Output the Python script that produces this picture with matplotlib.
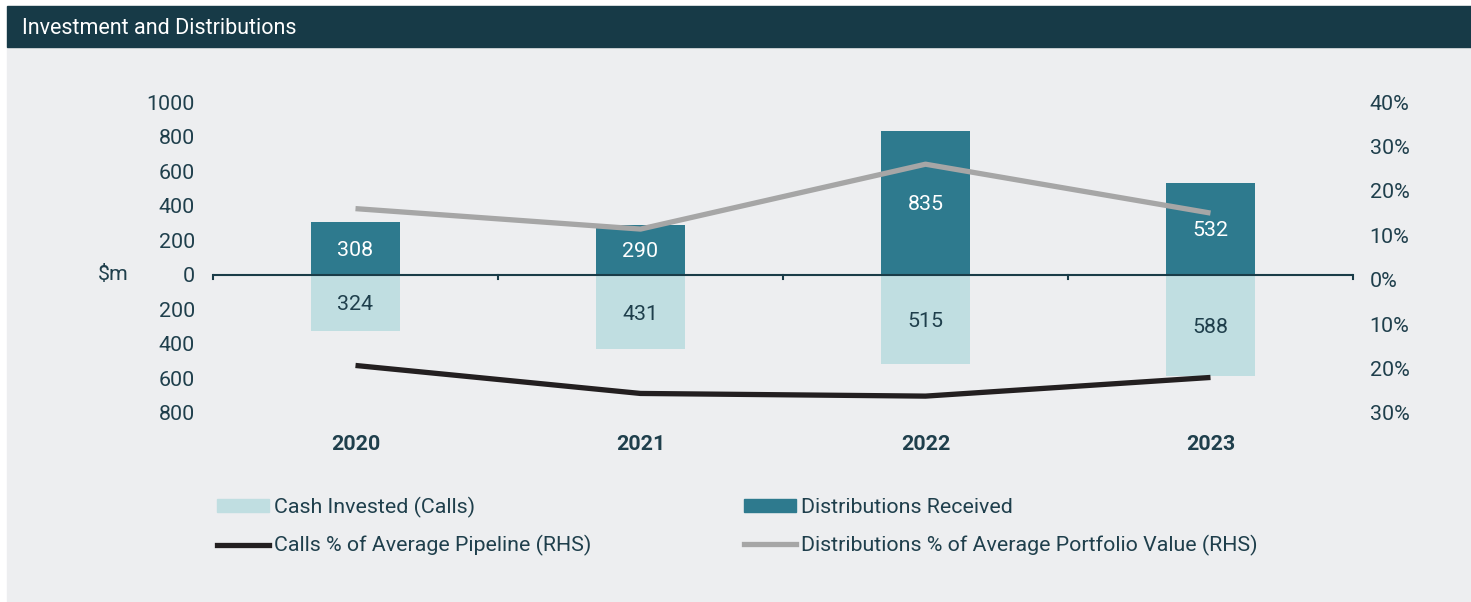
import matplotlib.pyplot as plt
import matplotlib.patches as mpatches
from matplotlib.lines import Line2D
import numpy as np

plt.rcParams['font.family'] = ['Roboto', 'DejaVu Sans']

years = ['2020', '2021', '2022', '2023']
distributions = [308, 290, 835, 532]          # $m, shown above zero
calls = [324, 431, 515, 588]                  # $m, shown below zero
dist_pct = [16.0, 11.4, 26.0, 15.0]           # % of average portfolio value
calls_pct = [19.3, 25.6, 26.2, 22.0]          # % of average pipeline (drawn below zero)

W, H = 1471, 602
TXT = '#1f3f4c'
DARK = '#2e7a8e'
LIGHT = '#c0dee1'
BG = '#edeef0'
FS = 15.4

fig = plt.figure(figsize=(W / 100, H / 100), dpi=100, facecolor='white')

# background panels
fig.patches.append(mpatches.Rectangle((7 / W, 0), 1 - 7 / W, 1 - 47 / H,
                                      transform=fig.transFigure, color=BG, zorder=-5))
fig.patches.append(mpatches.Rectangle((7 / W, 1 - 47 / H), 1 - 7 / W, 41 / H,
                                      transform=fig.transFigure, color='#173a47', zorder=-5))
fig.text(22 / W, 1 - 26 / H, 'Investment and Distributions', color='white',
         fontsize=15.5, va='center_baseline', ha='left')

# axes region in pixels
x0, x1, y_top, y_bot = 213, 1353, 102, 413
ax = fig.add_axes([x0 / W, 1 - y_bot / H, (x1 - x0) / W, (y_bot - y_top) / H])
ax.set_facecolor('none')
ax2 = ax.twinx()

x = np.arange(len(years))
bw = 0.31
ax.bar(x, distributions, width=bw, color=DARK, zorder=2)
ax.bar(x, [-c for c in calls], width=bw, color=LIGHT, zorder=2)

for xi, d, c in zip(x, distributions, calls):
    ax.text(xi, d / 2, str(d), ha='center', va='center_baseline', color='white', fontsize=FS, zorder=3)
    ax.text(xi, -c / 2, str(c), ha='center', va='center_baseline', color=TXT, fontsize=FS, zorder=3)

ax.set_xlim(-0.5, len(years) - 0.5)
ax.set_ylim(-800, 1000)
yt = np.arange(-800, 1001, 200)
ax.set_yticks(yt)
ax.set_yticklabels([str(abs(v)) for v in yt])
ax.axhline(0, color='#1a3c48', lw=1.5, zorder=4)
# category boundary ticks on the zero line
for b in np.arange(-0.5, len(years), 1.0):
    ax.plot([b, b], [0, -25], color='#1a3c48', lw=1.5, zorder=4, clip_on=False)

ax.set_xticks(x)
ax.set_xticklabels(years, fontweight='bold', fontsize=FS, color=TXT)
ax.tick_params(axis='x', length=0, pad=16)
ax.tick_params(axis='y', length=0, labelsize=FS, labelcolor=TXT, pad=13)
for s in ax.spines.values():
    s.set_visible(False)
for s in ax2.spines.values():
    s.set_visible(False)

ax2.plot(x, dist_pct, color='#a6a6a6', lw=3.8, zorder=5, solid_capstyle='butt')
ax2.plot(x, [-p for p in calls_pct], color='#231f20', lw=3.8, zorder=5, solid_capstyle='butt')
ax2.set_ylim(-30, 40)
rt = np.arange(-30, 41, 10)
ax2.set_yticks(rt)
ax2.set_yticklabels([f'{abs(v)}%' for v in rt])
ax2.tick_params(axis='y', length=0, labelsize=FS, labelcolor=TXT, pad=12)

fig.text(129 / W, 1 - 274 / H, '$m', fontsize=FS, color=TXT, ha='right', va='center')

handles = [
    mpatches.Patch(color=LIGHT, label='Cash Invested (Calls)'),
    mpatches.Patch(color=DARK, label='Distributions Received'),
    Line2D([0], [0], color='#231f20', lw=3.8, label='Calls % of Average Pipeline (RHS)'),
    Line2D([0], [0], color='#a6a6a6', lw=3.8, label='Distributions % of Average Portfolio Value (RHS)'),
]
order = [handles[0], handles[2], handles[1], handles[3]]
leg = fig.legend(handles=order, ncol=2, loc='upper left',
                 bbox_to_anchor=(208 / W, 1 - 488 / H), frameon=False,
                 fontsize=FS, handlelength=2.45, handleheight=0.55, handletextpad=0.25,
                 columnspacing=7.1, labelspacing=0.82, borderaxespad=0)
for t in leg.get_texts():
    t.set_color(TXT)

fig.savefig('out.png', dpi=100, facecolor='white')
